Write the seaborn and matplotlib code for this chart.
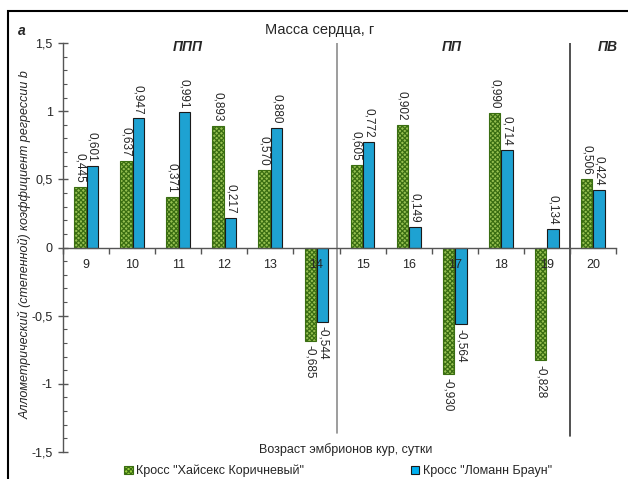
import numpy as np
import pandas as pd
import matplotlib
matplotlib.use("Agg")
import matplotlib.pyplot as plt
from matplotlib.patches import Rectangle, Patch
from matplotlib.ticker import FuncFormatter, MultipleLocator
import seaborn as sns

# data
days = ["9", "10", "11", "12", "13", "14", "15", "16", "17", "18", "19", "20"]
hysex = [0.445, 0.637, 0.371, 0.893, 0.570, -0.685, 0.605, 0.902, -0.930, 0.990, -0.828, 0.506]
lohmann = [0.601, 0.947, 0.991, 0.217, 0.880, -0.544, 0.772, 0.149, -0.564, 0.714, 0.134, 0.424]
series = ['Кросс "Хайсекс Коричневый"', 'Кросс "Ломанн Браун"']
periods = ["ППП", "ПП", "ПВ"]
period_x = [2.21, 7.94, 11.32]

sns.set_style("white")
plt.rcParams['font.family'] = ['Liberation Sans', 'DejaVu Sans']
plt.rcParams['hatch.linewidth'] = 0.9

df = pd.DataFrame({
    'day': days * 2,
    'value': hysex + lohmann,
    'cross': [series[0]] * len(days) + [series[1]] * len(days),
})

fig = plt.figure(figsize=(6.28, 4.79), dpi=100)
ax = fig.add_axes([63 / 628, 1 - 452 / 479, (616 - 63) / 628, (452 - 43) / 479])

green = '#9BD23E'
blue = '#00B0F0'
sns.barplot(data=df, x='day', y='value', hue='cross', order=days,
            palette=[green, blue], width=0.54, gap=0.08, ax=ax,
            legend=False, errorbar=None)

# patterns and outlines
for c, cont in enumerate(ax.containers):
    for p in cont:
        if c == 0:
            p.set_hatch('xxxxxxx')
            p.set_edgecolor('#3A6E12')
            p.set_linewidth(0.8)
        else:
            p.set_edgecolor('#1a1a1a')
            p.set_linewidth(0.8)
    vals = hysex if c == 0 else lohmann
    labels = [f"{v:.3f}".replace('.', ',') for v in vals]
    ax.bar_label(cont, labels=labels, rotation=-90, padding=3, fontsize=8.5)

ax.set_axisbelow(False)
ax.set_ylim(-1.5, 1.5)
ax.set_xlim(-0.5, 11.5)
ax.yaxis.set_major_locator(MultipleLocator(0.5))
ax.yaxis.set_minor_locator(MultipleLocator(0.1))
ax.yaxis.set_major_formatter(FuncFormatter(lambda v, pos: f"{v:g}".replace('.', ',')))
ax.tick_params(axis='y', which='major', direction='inout', length=7, width=1,
               color='#555555', labelsize=9, pad=4, left=True)
ax.tick_params(axis='y', which='minor', direction='in', length=3, width=0.8,
               color='#555555', left=True)

ax.spines['top'].set_visible(False)
ax.spines['right'].set_visible(False)
ax.spines['bottom'].set_position(('data', 0))
for s in ['left', 'bottom']:
    ax.spines[s].set_color('#555555')
    ax.spines[s].set_linewidth(1)

ax.set_xticks(np.arange(-0.5, 12, 1), minor=True)
ax.tick_params(axis='x', which='major', length=0, labelsize=9, pad=8)
ax.tick_params(axis='x', which='minor', direction='out', length=4, width=1,
               color='#555555', bottom=True)
ax.set_xlabel('')
ax.set_ylabel('')

# period separators and labels
ax.plot([5.45, 5.45], [1.5, -1.36], color='#8c8c8c', lw=1.2)
ax.plot([10.5, 10.5], [1.5, -1.38], color='#333333', lw=1.2)
for name, px in zip(periods, period_x):
    ax.text(px, 1.47, name, ha='center', va='center', fontsize=10,
            fontweight='bold', fontstyle='italic')

fig.text(320 / 628, 1 - 30 / 479, 'Масса сердца, г', ha='center', va='center', fontsize=10.5)
fig.text(22 / 628, 1 - 31 / 479, 'а', ha='center', va='center', fontsize=10,
         fontweight='bold', fontstyle='italic')
fig.text(25 / 628, 1 - 245 / 479, 'Аллометрический (степенной) коэффициент регрессии b',
         rotation=90, ha='center', va='center', fontsize=9, fontstyle='italic')
fig.text(346 / 628, 1 - 450 / 479, 'Возраст эмбрионов кур, сутки',
         ha='center', va='center', fontsize=9)

handles = [Patch(facecolor=green, edgecolor='#3A6E12', hatch='xxxxxxx', lw=0.8),
           Patch(facecolor=blue, edgecolor='#1a1a1a', lw=0.8)]
fig.legend(handles, series, loc='center', bbox_to_anchor=(338 / 628, 1 - 471 / 479),
           ncol=2, frameon=False, fontsize=9, handlelength=0.7, handleheight=0.7,
           handletextpad=0.3, columnspacing=8.5, borderpad=0)

# outer frame
fig.patches.append(Rectangle((8 / 628, -0.1), 1.2, 1 - 11 / 479 + 0.1,
                             transform=fig.transFigure, fill=False,
                             edgecolor='black', lw=1.5))

fig.savefig('out.png', dpi=100)
